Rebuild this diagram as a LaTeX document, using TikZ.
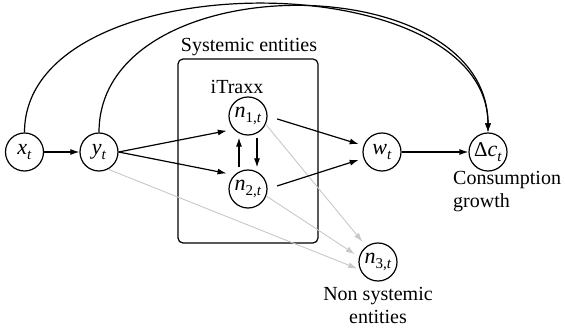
\documentclass[tikz,border=0pt]{standalone}
\usepackage{fontspec}
\setmainfont{Liberation Serif}
\usetikzlibrary{arrows.meta}
\definecolor{lgray}{RGB}{200,200,200}
\tikzset{
  var/.style={circle,draw,line width=1.2pt,minimum size=38pt,inner sep=0pt},
  lbl/.style={inner sep=0pt,align=center},
  arr/.style={line width=1.2pt,-{Latex[length=9pt,width=6pt]}},
  garr/.style={line width=0.9pt,draw=lgray,-{Latex[length=9pt,width=6pt,fill=lgray]}},
}
\newcommand{\vv}[2]{{\fontsize{22}{22}\selectfont\itshape #1}\raisebox{-4.5pt}{\fontsize{15}{15}\selectfont #2}}
\begin{document}
\begin{tikzpicture}[x=1pt,y=1pt,font=\fontsize{20}{23}\selectfont]
\useasboundingbox (0,0) rectangle (565,327);
% box
\node[draw,line width=1.2pt,rounded corners=5pt,minimum width=140pt,minimum height=184pt,inner sep=0pt] (box) at (248,176) {};
\node[lbl] (syslbl) at (249,280) {Systemic entities};
\node[lbl] (itraxx) at (237,240) {iTraxx};
% nodes
\node[var] (x) at (24.5,175) {\vv{x}{\textit{t}}};
\node[var] (y) at (99,175) {\vv{y}{\textit{t}}};
\node[var] (n1) at (248,211) {\vv{n}{1,\textit{t}}};
\node[var] (n2) at (248,138) {\vv{n}{2,\textit{t}}};
\node[var] (w) at (382,175) {\vv{w}{\textit{t}}};
\node[var] (dc) at (488,175) {{\fontsize{21}{21}\selectfont Δ}\vv{c}{\textit{t}}};
\node[var] (n3) at (378,65) {\vv{n}{3,\textit{t}}};
\node[lbl,align=left,anchor=west] (cons) at (453,135.5) {Consumption\\growth};
\node[lbl] (nonsys) at (378,22) {Non systemic\\entities};
% gray edges
\draw[garr,shorten >=6pt] (n1.-25) -- (n3.127);
\draw[garr,shorten >=5pt] (n2.-21) -- (n3.165);
\draw[garr,shorten >=3pt] (y.-62) -- (n3.203);
% black edges
\draw[arr] (x) -- (y);
\draw[arr,shorten >=7pt] (y.east) -- (n1.223);
\draw[arr,shorten >=8pt] (y.east) -- (n2.134);
\draw[arr,shorten <=2pt,shorten >=2pt] ([xshift=-9pt]n2.north) -- ([xshift=-9pt]n1.south);
\draw[arr,shorten <=2pt,shorten >=2pt] ([xshift=9pt]n1.south) -- ([xshift=9pt]n2.north);
\draw[arr,shorten <=10pt,shorten >=5pt] (n1.east) -- (w.161);
\draw[arr,shorten <=10pt,shorten >=5pt] (n2.east) -- (w.-161);
\draw[arr] (w) -- (dc);
\draw[arr] (x) to[out=90,in=90,distance=171pt] (dc);
\draw[arr] (y) to[out=90,in=90,distance=168pt] (dc);
\end{tikzpicture}
\end{document}
